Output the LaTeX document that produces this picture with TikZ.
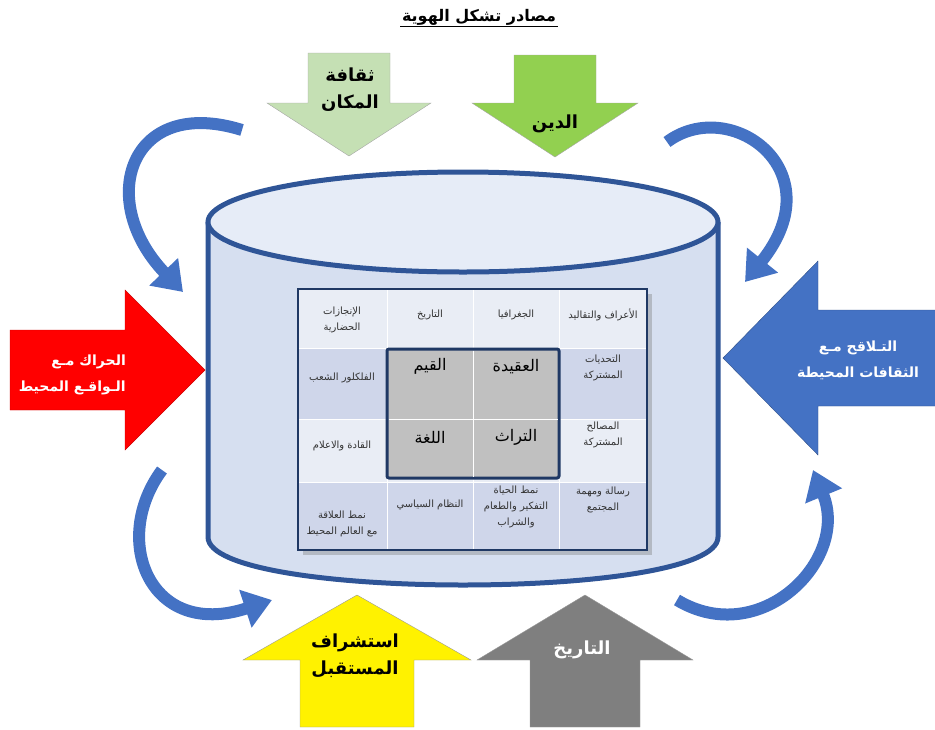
\documentclass[tikz,border=0pt]{standalone}
\usepackage{fontspec}
\newfontfamily\arabicfont[Script=Arabic]{DejaVu Sans}
\TeXXeTstate=1
\usepackage{tikz}
\usetikzlibrary{arrows.meta}
\usetikzlibrary{shadows}
\definecolor{cylblue}{HTML}{2F5597}
\definecolor{cylbody}{HTML}{D6DFF0}
\definecolor{cyltop}{HTML}{E6ECF7}
\definecolor{arcblue}{HTML}{4472C4}
\definecolor{placegreen}{HTML}{C5E0B4}
\definecolor{faithgreen}{HTML}{92D050}
\definecolor{pastgrey}{HTML}{7F7F7F}
\definecolor{rowdark}{HTML}{CFD6EA}
\definecolor{rowlight}{HTML}{E9EDF5}
\definecolor{corefill}{HTML}{C0C0C0}
\definecolor{navy}{HTML}{1F3864}
\newcommand{\arline}[1]{\beginR #1\endR}
% block arrows: centre, half shaft, base, head start, half head, tip, style
\newcommand{\blockV}[7]{\draw[#7] (#1-#2,#3) -- (#1+#2,#3) -- (#1+#2,#4) -- (#1+#5,#4) -- (#1,#6) -- (#1-#5,#4) -- (#1-#2,#4) -- cycle;}
\newcommand{\blockH}[7]{\draw[#7] (#3,#1-#2) -- (#3,#1+#2) -- (#4,#1+#2) -- (#4,#1+#5) -- (#6,#1) -- (#4,#1-#5) -- (#4,#1-#2) -- cycle;}
\newcommand{\cellrow}[3]{\fill[#3] (298,#1) rectangle (647,#2);}

\begin{document}
\begin{tikzpicture}[x=1pt,y=-1pt,
    small/.style={font=\arabicfont\fontsize{10}{16}\selectfont, text=black!80, align=center, inner sep=0pt},
    core/.style={font=\arabicfont\fontsize{16}{18}\selectfont, inner sep=0pt},
    big/.style={font=\arabicfont\bfseries\fontsize{18}{27}\selectfont, align=center, inner sep=0pt},
    side/.style={font=\arabicfont\bfseries\fontsize{14}{26}\selectfont, inner sep=0pt, text=white},
    curvearrow/.style={draw=arcblue, line width=12pt, -{Triangle[width=38pt,length=28pt]}}]
\useasboundingbox (0,0) rectangle (935,729);

\node[font=\arabicfont\bfseries\fontsize{16}{18}\selectfont, inner sep=1.5pt] (title) at (479,17) {\arline{مصادر تشكل الهوية}};
\draw[line width=1pt] (title.south west) -- (title.south east);

% curved arrows
\coordinate (tlA) at (242,130);
\coordinate (tlB) at (183,292);
\coordinate (trA) at (667,142);
\coordinate (trB) at (745,282);
\coordinate (blA) at (162,470);
\coordinate (blB) at (272,600);
\coordinate (brA) at (677,600);
\coordinate (brB) at (813,470);
\draw[curvearrow] (tlA) .. controls (130,95) and (95,200) .. (tlB);
\draw[curvearrow] (trA) .. controls (730,95) and (835,170) .. (trB);
\draw[curvearrow] (blA) .. controls (110,540) and (150,640) .. (blB);
\draw[curvearrow] (brA) .. controls (760,650) and (850,560) .. (brB);

% cylinder
\fill[cylbody] (208,222) -- (208,537) .. controls (208,601) and (718,601) .. (718,537) -- (718,222) -- cycle;
\draw[cylblue, line width=5pt] (208,222) -- (208,537) .. controls (208,601) and (718,601) .. (718,537) -- (718,222);
\draw[cylblue, line width=5pt, fill=cyltop] (463,222) ellipse [x radius=255, y radius=50];

% table
\fill[white, drop shadow={opacity=0.4, shadow xshift=5pt, shadow yshift=-5pt}] (298,289) rectangle (647,550);
\cellrow{289}{348}{rowlight}
\cellrow{348}{419}{rowdark}
\cellrow{419}{482}{rowlight}
\cellrow{482}{550}{rowdark}
\draw[white, line width=1pt] (387,289) -- (387,550);
\draw[white, line width=1pt] (473,289) -- (473,550);
\draw[white, line width=1pt] (559,289) -- (559,550);
\draw[white, line width=1pt] (298,348) -- (647,348);
\draw[white, line width=1pt] (298,419) -- (647,419);
\draw[white, line width=1pt] (298,482) -- (647,482);
\draw[navy, line width=3pt, fill=corefill, rounded corners=2pt] (387,349) rectangle (559,478);
\draw[white, line width=1pt] (473,350.5) -- (473,476.5);
\draw[white, line width=1pt] (388.5,419) -- (557.5,419);
\draw[navy, line width=2pt] (298,289) rectangle (647,550);

\node[small] (c14) at (603,315) {\arline{الأعراف والتقاليد}};
\node[small] (c13) at (516,315) {\arline{الجغرافيا}};
\node[small] (c12) at (430,315) {\arline{التاريخ}};
\node[small] (c11) at (342,320) {\arline{الإنجازات}\\\arline{الحضارية}};
\node[small] (c24) at (603,368) {\arline{التحديات}\\\arline{المشتركة}};
\node[core] (c23) at (516,367) {\arline{العقيدة}};
\node[core] (c22) at (430,366) {\arline{القيم}};
\node[small] (c21) at (342,378) {\arline{الفلكلور الشعب}};
\node[small] (c34) at (603,435) {\arline{المصالح}\\\arline{المشتركة}};
\node[core] (c33) at (516,437) {\arline{التراث}};
\node[core] (c32) at (430,437) {\arline{اللغة}};
\node[small] (c31) at (342,446) {\arline{القادة والاعلام}};
\node[small] (c44) at (603,500) {\arline{رسالة ومهمة}\\\arline{المجتمع}};
\node[small] (c43) at (516,507) {\arline{نمط الحياة}\\\arline{التفكير والطعام}\\\arline{والشراب}};
\node[small] (c42) at (430,505) {\arline{النظام السياسي}};
\node[small] (c41) at (342,524) {\arline{نمط العلاقة}\\\arline{مع العالم المحيط}};

% block arrows
\blockV{349}{41}{53}{103}{82}{156}{fill=placegreen, draw=black!35}
\blockV{555}{41}{55}{103}{83}{157}{fill=faithgreen, draw=black!35}
\blockV{357}{57}{727}{660}{114}{595}{fill=yellow, draw=black!40}
\blockV{585}{55}{727}{660}{108}{595}{fill=pastgrey, draw=black!40}
\blockH{370}{40}{10}{125}{80}{205}{fill=red, draw=red!80!black}
\blockH{358}{48}{936}{818}{97}{723}{fill=arcblue, draw=arcblue!70!black}

\node[big] (place) at (350,90) {\arline{ثقافة}\\\arline{المكان}};
\node[big] (faith) at (555,124) {\arline{الدين}};
\node[side, align=right, anchor=east] (moving) at (126,375) {\arline{الحراك مـع}\\\arline{الـواقـع المحيط}};
\node[side, align=center] (mixing) at (858,360) {\arline{التـلاقح مـع}\\\arline{الثقافات المحيطة}};
\node[big] (future) at (355,656) {\arline{استشراف}\\\arline{المستقبل}};
\node[big, text=white] (history) at (582,650) {\arline{التاريخ}};
\end{tikzpicture}
\end{document}
